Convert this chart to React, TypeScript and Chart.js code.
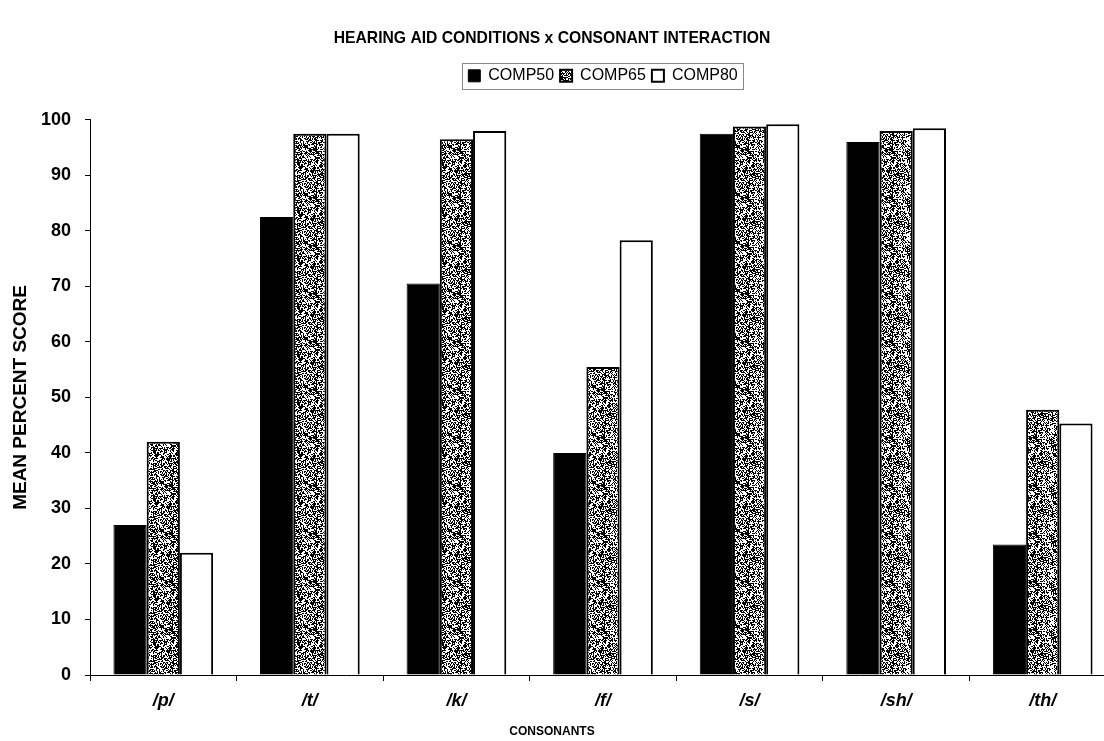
import React, { useEffect, useRef } from "react";
import { Chart, registerables } from "chart.js";

Chart.register(...registerables);

const categories = ["/p/", "/t/", "/k/", "/f/", "/s/", "/sh/", "/th/"];
const seriesNames = ["COMP50", "COMP65", "COMP80"];
const comp50 = [27, 82.5, 70.5, 40, 97.5, 96, 23.5];
const comp65 = [42, 97.5, 96.5, 55.5, 98.8, 98, 47.8];
const comp80 = [22, 97.5, 98, 78.3, 99.2, 98.5, 45.3];
const yMin = 0;
const yMax = 100;
const yStep = 10;

const FONT = "Liberation Sans, Arial, sans-serif";
const TITLE_TEXT = "HEARING AID CONDITIONS x CONSONANT INTERACTION";
const X_TITLE = "CONSONANTS";
const Y_TITLE = "MEAN PERCENT SCORE";

function makeStipple(): CanvasPattern | string {
  const c = document.createElement("canvas");
  c.width = 48;
  c.height = 48;
  const ctx = c.getContext("2d");
  if (!ctx) return "#888";
  ctx.fillStyle = "#ffffff";
  ctx.fillRect(0, 0, 48, 48);
  let s = 12345;
  const rnd = () => {
    s = (s * 1103515245 + 12345) & 0x7fffffff;
    return s / 0x7fffffff;
  };
  ctx.fillStyle = "#000000";
  for (let y = 0; y < 48; y++) {
    for (let x = 0; x < 48; x++) {
      if (rnd() < 0.5) ctx.fillRect(x, y, 1, 1);
    }
  }
  const p = ctx.createPattern(c, "repeat");
  return p || "#888";
}

const legendMargin = {
  id: "legendMargin",
  beforeInit(chart: any) {
    const lg = chart.legend;
    if (!lg) return;
    const orig = lg.fit;
    lg.fit = function () {
      orig.call(this);
      this.height += 26;
    };
  },
  afterLayout(chart: any) {
    for (const b of chart.boxes) {
      const t = b.options && b.options.text;
      if (t === TITLE_TEXT || t === X_TITLE) {
        b.left -= 16;
      }
    }
    if (chart.legend) {
      chart.legend.left += 86;
    }
  },
};

const legendBorder = {
  id: "legendBorder",
  afterDraw(chart: any) {
    const l = chart.legend;
    if (!l || !l.legendHitBoxes || !l.legendHitBoxes.length) return;
    const boxes = l.legendHitBoxes;
    let x0 = Infinity, y0 = Infinity, x1 = -Infinity, y1 = -Infinity;
    for (const b of boxes) {
      x0 = Math.min(x0, b.left);
      y0 = Math.min(y0, b.top);
      x1 = Math.max(x1, b.left + b.width);
      y1 = Math.max(y1, b.top + b.height);
    }
    const ctx = chart.ctx;
    ctx.save();
    ctx.strokeStyle = "#888";
    ctx.lineWidth = 1;
    ctx.strokeRect(Math.round(x0 - 6) + 0.5, Math.round(y0 - 5) + 0.5, Math.round(x1 - x0 + 12), Math.round(y1 - y0 + 10));
    ctx.restore();
  },
};

export default function App() {
  const ref = useRef<HTMLCanvasElement>(null);
  useEffect(() => {
    if (!ref.current) return;
    const stipple = makeStipple();
    const chart = new Chart(ref.current, {
      type: "bar",
      data: {
        labels: categories,
        datasets: [
          { label: seriesNames[0], data: comp50, backgroundColor: "#000", borderColor: "#000", borderWidth: 1 },
          { label: seriesNames[1], data: comp65, backgroundColor: stipple as any, borderColor: "#000", borderWidth: 2 },
          { label: seriesNames[2], data: comp80, backgroundColor: "#fff", borderColor: "#000", borderWidth: 2 },
        ],
      },
      options: {
        responsive: false,
        animation: false,
        layout: { padding: { left: 4, right: 4, top: 29, bottom: 2 } },
        datasets: { bar: { categoryPercentage: 0.68, barPercentage: 1.0 } },
        plugins: {
          title: {
            display: true,
            text: TITLE_TEXT,
            color: "#000",
            font: { family: FONT, size: 15.7, weight: "bold" },
            padding: { top: 0, bottom: 14 },
          },
          subtitle: {
            display: true,
            position: "bottom",
            text: X_TITLE,
            color: "#000",
            font: { family: FONT, size: 12, weight: "bold" },
            padding: { top: 4, bottom: 0 },
          },
          legend: {
            display: true,
            position: "top",
            labels: {
              color: "#000",
              font: { family: FONT, size: 16 },
              boxWidth: 12,
              boxHeight: 12,
              padding: 6,
            },
          },
          tooltip: { enabled: false },
        },
        scales: {
          x: {
            grid: { display: true, drawOnChartArea: false, drawTicks: true, tickLength: 6, color: "#000", offset: true },
            border: { display: true, color: "#000", width: 1 },
            ticks: {
              color: "#000",
              font: { family: FONT, size: 18, weight: "bold", style: "italic" },
              padding: 9,
            },
          },
          y: {
            min: yMin,
            max: yMax,
            afterFit: (scale: any) => {
              scale.width = 86;
            },
            grid: { display: true, drawOnChartArea: false, drawTicks: true, tickLength: 5, color: "#000" },
            border: { display: true, color: "#000", width: 1 },
            ticks: {
              stepSize: yStep,
              color: "#000",
              font: { family: FONT, size: 18, weight: "bold" },
              padding: 14,
            },
            title: {
              display: true,
              text: Y_TITLE,
              color: "#000",
              font: { family: FONT, size: 19, weight: "bold" },
              padding: { top: 5, bottom: 8 },
            },
          },
        },
      },
      plugins: [legendMargin, legendBorder],
    });
    return () => chart.destroy();
  }, []);
  return (
    <div style={{ position: "absolute", left: 0, top: 0, width: 1104, height: 741, overflow: "hidden", background: "#fff" }}>
      <canvas ref={ref} width={1120} height={741} style={{ display: "block" }} />
    </div>
  );
}
